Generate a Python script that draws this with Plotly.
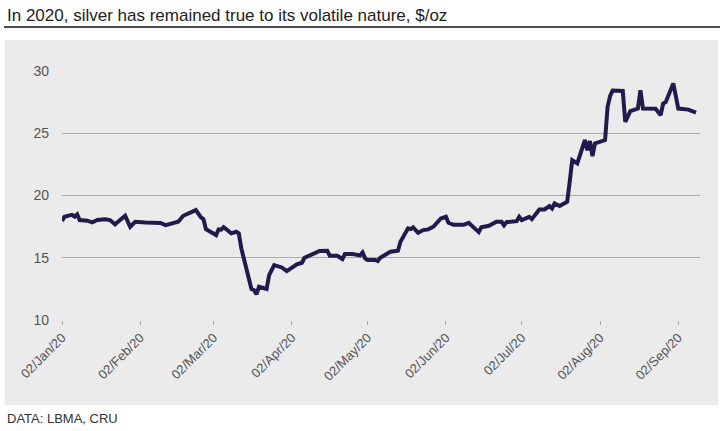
import plotly.graph_objects as go

dates = [
    "2020-01-02", "2020-01-03", "2020-01-05", "2020-01-06", "2020-01-07", "2020-01-08", "2020-01-09",
    "2020-01-11", "2020-01-12", "2020-01-14", "2020-01-16", "2020-01-19", "2020-01-21", "2020-01-23",
    "2020-01-25", "2020-01-27", "2020-01-29", "2020-01-31", "2020-02-04", "2020-02-06", "2020-02-08",
    "2020-02-10", "2020-02-12", "2020-02-14", "2020-02-17", "2020-02-19", "2020-02-22", "2020-02-24",
    "2020-02-26", "2020-02-27", "2020-02-28", "2020-03-02", "2020-03-03", "2020-03-04", "2020-03-05",
    "2020-03-06", "2020-03-07", "2020-03-09", "2020-03-11", "2020-03-12", "2020-03-13", "2020-03-15",
    "2020-03-17", "2020-03-18", "2020-03-19", "2020-03-20", "2020-03-22", "2020-03-23", "2020-03-24",
    "2020-03-26", "2020-03-29", "2020-03-31", "2020-04-04", "2020-04-06", "2020-04-07", "2020-04-10",
    "2020-04-13", "2020-04-16", "2020-04-17", "2020-04-20", "2020-04-22", "2020-04-23", "2020-04-26",
    "2020-04-29", "2020-04-30", "2020-05-01", "2020-05-02", "2020-05-05", "2020-05-06", "2020-05-07",
    "2020-05-09", "2020-05-11", "2020-05-14", "2020-05-15", "2020-05-18", "2020-05-19", "2020-05-20",
    "2020-05-22", "2020-05-24", "2020-05-26", "2020-05-28", "2020-05-31", "2020-06-02", "2020-06-03",
    "2020-06-05", "2020-06-09", "2020-06-11", "2020-06-13", "2020-06-15", "2020-06-16", "2020-06-18",
    "2020-06-19", "2020-06-22", "2020-06-24", "2020-06-25", "2020-06-26", "2020-06-30", "2020-07-01",
    "2020-07-02", "2020-07-05", "2020-07-06", "2020-07-08", "2020-07-09", "2020-07-11", "2020-07-13",
    "2020-07-14", "2020-07-15", "2020-07-17", "2020-07-20", "2020-07-21", "2020-07-22", "2020-07-24",
    "2020-07-27", "2020-07-28", "2020-07-29", "2020-07-30", "2020-07-31", "2020-08-04", "2020-08-05",
    "2020-08-06", "2020-08-07", "2020-08-11", "2020-08-12", "2020-08-14", "2020-08-17", "2020-08-18",
    "2020-08-19", "2020-08-24", "2020-08-26", "2020-08-27", "2020-08-28", "2020-08-31", "2020-09-02",
    "2020-09-06", "2020-09-09",
]
prices = [
    17.95, 18.29, 18.40, 18.45, 18.30, 18.48, 18.03,
    18.03, 17.98, 17.84, 18.03, 18.10, 18.03, 17.68,
    18.08, 18.37, 17.49, 17.89, 17.84, 17.80, 17.84,
    17.80, 17.62, 17.75, 17.89, 18.37, 18.64, 18.83,
    18.25, 18.10, 17.30, 16.90, 16.82, 17.28, 17.25,
    17.46, 17.28, 16.96, 17.09, 16.96, 15.75, 14.15,
    12.49, 12.41, 12.06, 12.67, 12.60, 12.49, 13.61,
    14.41, 14.22, 13.93, 14.47, 14.60, 15.00, 15.30,
    15.54, 15.56, 15.16, 15.16, 14.90, 15.30, 15.30,
    15.19, 15.43, 14.95, 14.82, 14.82, 14.74, 15.00,
    15.22, 15.48, 15.56, 16.29, 17.36, 17.30, 17.44,
    17.00, 17.22, 17.28, 17.49, 18.16, 18.29, 17.81,
    17.65, 17.65, 17.81, 17.44, 17.06, 17.44, 17.57,
    17.57, 17.89, 17.89, 17.60, 17.86, 17.94, 18.29,
    18.03, 18.29, 18.10, 18.64, 18.88, 18.88, 19.15,
    18.96, 19.36, 19.15, 19.50, 21.10, 22.84, 22.58,
    24.45, 23.64, 24.37, 23.16, 24.18, 24.45, 27.12,
    28.00, 28.43, 28.40, 25.91, 26.77, 26.98, 28.46,
    26.98, 26.96, 26.45, 27.39, 27.50, 29.00, 26.98,
    26.90, 26.66,
]
tick_dates = ["2020-01-02", "2020-02-02", "2020-03-02", "2020-04-02", "2020-05-02",
              "2020-06-02", "2020-07-02", "2020-08-02", "2020-09-02"]
tick_labels = ["02/Jan/20", "02/Feb/20", "02/Mar/20", "02/Apr/20", "02/May/20",
               "02/Jun/20", "02/Jul/20", "02/Aug/20", "02/Sep/20"]
y_ticks = [10, 15, 20, 25, 30]

title_text = "In 2020, silver has remained true to its volatile nature, $/oz"
source_text = "DATA: LBMA, CRU"

W, H = 725, 431
L, R, T, B = 62, 25, 71, 111
pw, ph = W - L - R, H - T - B

def px_x(p):
    return (p - L) / pw

def px_y(p):
    return (H - B - p) / ph

BG = "#ebebeb"
LINE = "#201b4b"
FONT = "Liberation Sans, Arial, sans-serif"

fig = go.Figure()
fig.add_trace(go.Scatter(
    x=dates, y=prices, mode="lines",
    line=dict(color=LINE, width=4, shape="linear"),
    hoverinfo="x+y", showlegend=False,
))

fig.update_layout(
    width=W, height=H,
    margin=dict(l=L, r=R, t=T, b=B, pad=0),
    paper_bgcolor="white",
    plot_bgcolor=BG,
    font=dict(family=FONT, color="#555555"),
    xaxis=dict(
        type="date",
        range=["2020-01-02", "2020-09-10 14:00"],
        tickvals=tick_dates, ticktext=tick_labels,
        tickangle=-45, tickfont=dict(size=13, color="#555555"),
        showgrid=False, zeroline=False, showline=False,
        ticks="outside", ticklen=4, tickcolor="#aaaaaa", tickwidth=1,
    ),
    yaxis=dict(
        range=[10, 30], tickvals=y_ticks,
        tickfont=dict(size=14, color="#555555"),
        showgrid=True, gridcolor="#aaaaaa", gridwidth=1,
        zeroline=False, showline=False, ticks="", ticklabelstandoff=12,
    ),
    shapes=[
        dict(type="rect", xref="paper", yref="paper",
             x0=px_x(5), x1=px_x(718), y0=px_y(405), y1=px_y(40),
             fillcolor=BG, line=dict(width=0), layer="below"),
        dict(type="line", xref="paper", yref="paper",
             x0=px_x(4), x1=px_x(720), y0=px_y(27), y1=px_y(27),
             line=dict(color="#111111", width=1.5)),
    ],
    annotations=[
        dict(text=title_text, xref="paper", yref="paper",
             x=px_x(5), y=px_y(15), xanchor="left", yanchor="middle",
             showarrow=False, font=dict(family=FONT, size=17, color="#222222")),
        dict(text=source_text, xref="paper", yref="paper",
             x=px_x(5), y=px_y(418), xanchor="left", yanchor="middle",
             showarrow=False, font=dict(family=FONT, size=13, color="#333333")),
    ],
)

fig.write_html("out.html", config={"displayModeBar": False},
               post_script="document.body.style.margin='0';document.body.style.padding='0';")
